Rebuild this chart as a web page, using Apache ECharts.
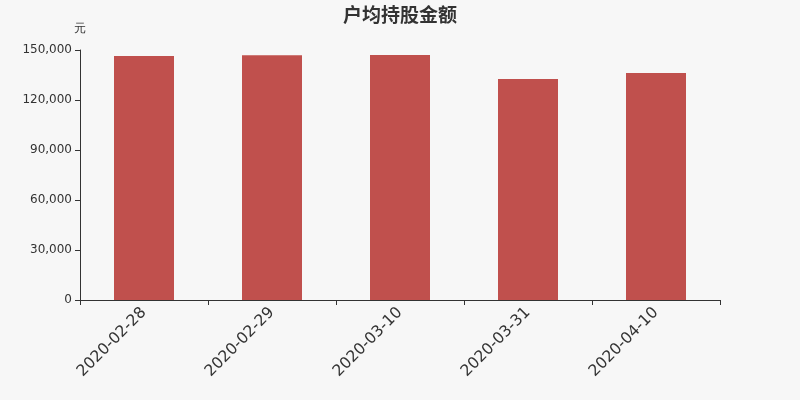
<!DOCTYPE html>
<html><head><meta charset="utf-8">
<script src="https://cdn.jsdelivr.net/npm/echarts@6/dist/echarts.min.js"></script>
<style>html,body{margin:0;padding:0;background:#f7f7f7;}#c{width:800px;height:400px;}</style>
</head><body><div id="c"></div>
<script>
const categories = ['2020-02-28','2020-02-29','2020-03-10','2020-03-31','2020-04-10'];
const values = [146400, 146800, 147000, 132600, 136200];
const yTicks = [0, 30000, 60000, 90000, 120000, 150000];

const chart = echarts.init(document.getElementById('c'));
chart.setOption({
  backgroundColor: '#f7f7f7',
  animation: false,
  title: {
    text: '户均持股金额', left: 'center', top: 0,
    textStyle: { fontSize: 19, fontWeight: 'bold', color: '#333', fontFamily: 'Noto Sans CJK SC' }
  },
  grid: { left: 80, right: 80, top: 50, bottom: 100 },
  xAxis: {
    type: 'category', data: categories,
    axisLine: { lineStyle: { color: '#333' } },
    axisTick: { show: true, alignWithLabel: false, lineStyle: { color: '#333' } },
    axisLabel: { rotate: 45, fontSize: 15.6, color: '#333', margin: 10, fontFamily: 'DejaVu Sans' }
  },
  yAxis: {
    type: 'value', min: yTicks[0], max: yTicks[yTicks.length-1], interval: 30000,
    name: '元', nameGap: 15, nameTextStyle: { color: '#333', fontSize: 12, align: 'center' },
    axisLine: { show: true, lineStyle: { color: '#333' } },
    axisTick: { show: true, lineStyle: { color: '#333' } },
    splitLine: { show: false },
    axisLabel: { fontSize: 12, color: '#333', fontFamily: 'DejaVu Sans',
      formatter: v => v.toLocaleString('en-US') }
  },
  series: [{
    type: 'bar', data: values, barWidth: 60,
    itemStyle: { color: '#c0504d' }
  }]
});
</script></body></html>
